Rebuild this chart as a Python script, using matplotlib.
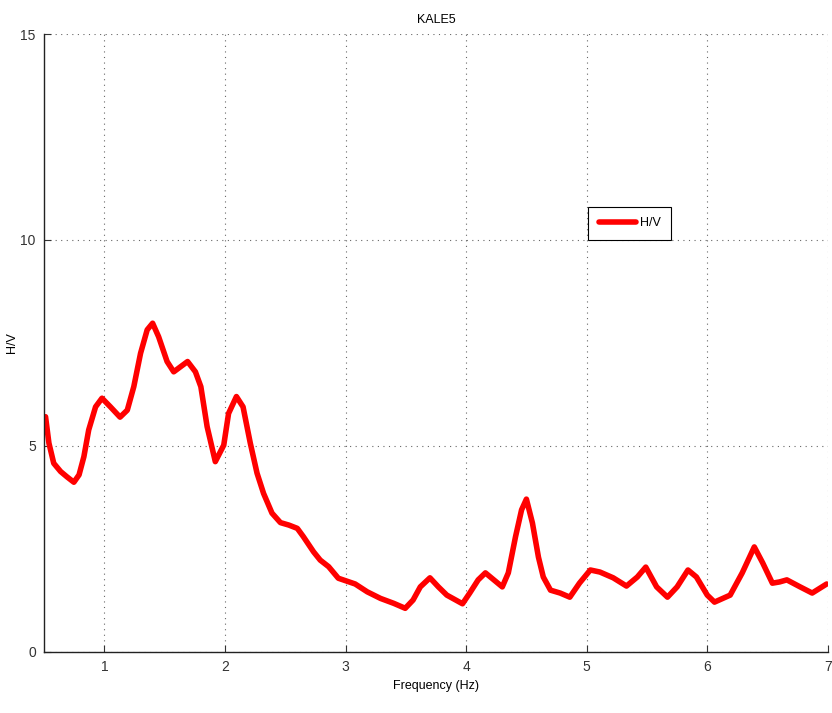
import matplotlib.pyplot as plt
import numpy as np

# H/V curve
freq = [0.512, 0.54, 0.58, 0.637, 0.69, 0.747, 0.79, 0.83, 0.87, 0.927, 0.98,
        1.05, 1.13, 1.19, 1.244, 1.30, 1.355, 1.40, 1.45, 1.52, 1.575, 1.63,
        1.69, 1.755, 1.80, 1.852, 1.92, 1.99, 2.03, 2.095, 2.15, 2.21, 2.266,
        2.32, 2.39, 2.46, 2.53, 2.60, 2.65, 2.735, 2.79, 2.86, 2.94, 3.01, 3.08,
        3.18, 3.29, 3.40, 3.495, 3.56, 3.62, 3.70, 3.77,
        3.84, 3.97, 4.03, 4.10, 4.16, 4.23, 4.30, 4.35, 4.41, 4.46, 4.50, 4.55,
        4.60, 4.64, 4.70, 4.78, 4.86, 4.94, 5.03, 5.11, 5.22, 5.33, 5.42, 5.49,
        5.58, 5.67, 5.75, 5.84, 5.91, 6.00, 6.06, 6.19, 6.29, 6.39, 6.46, 6.54,
        6.60, 6.66, 6.77, 6.87, 6.99]
hv = [5.71, 5.07, 4.58, 4.38, 4.25, 4.12, 4.30, 4.74, 5.39, 5.95, 6.16,
      5.95, 5.70, 5.87, 6.44, 7.25, 7.82, 7.98, 7.65, 7.05, 6.80, 6.92,
      7.05, 6.80, 6.44, 5.47, 4.62, 5.02, 5.79, 6.20, 5.95, 5.07, 4.34,
      3.85, 3.37, 3.14, 3.08, 3.00, 2.80, 2.43, 2.23, 2.07, 1.79, 1.72, 1.65,
      1.46, 1.30, 1.18, 1.06, 1.26, 1.58, 1.80, 1.58,
      1.38, 1.17, 1.43, 1.75, 1.92, 1.75, 1.58, 1.92, 2.80, 3.45, 3.71, 3.13,
      2.30, 1.82, 1.50, 1.43, 1.33, 1.67, 1.99, 1.94, 1.80, 1.60, 1.82, 2.06,
      1.58, 1.33, 1.58, 1.99, 1.82, 1.38, 1.21, 1.38, 1.92, 2.55, 2.16, 1.67,
      1.70, 1.75, 1.58, 1.43, 1.65]

xticks = [1, 2, 3, 4, 5, 6, 7]
yticks = [0, 5, 10, 15]

plt.rcParams['font.family'] = ['Liberation Sans Narrow', 'Liberation Sans', 'DejaVu Sans']

fig = plt.figure(figsize=(8.32, 7.13), dpi=100)
ax = fig.add_axes([0.053, 0.0856, 0.942, 0.8667])
ax.plot(freq, hv, color='red', linewidth=4, label='H/V',
        solid_joinstyle='round', solid_capstyle='round')
ax.set_xlim(0.5, 7)
ax.set_ylim(0, 15)
ax.set_xticks(xticks)
ax.set_yticks(yticks)
ax.grid(True, linestyle=(0, (1, 4)), color='black', linewidth=0.8, alpha=0.6)
ax.tick_params(direction='in', length=5, labelsize=10, pad=6, colors='#333333')
for s in ['top', 'right']:
    ax.spines[s].set_visible(False)
for s in ['left', 'bottom']:
    ax.spines[s].set_linewidth(1.0)
    ax.spines[s].set_color('#222222')
ax.set_title('KALE5', fontsize=9, pad=8)
ax.set_xlabel('Frequency (Hz)', fontsize=9, labelpad=4)
ax.set_ylabel('H/V', fontsize=9)
ax.yaxis.set_label_coords(-0.033, 0.5)
leg = ax.legend(loc='lower left', bbox_to_anchor=(0.694, 0.667), borderaxespad=0,
                fancybox=False, edgecolor='black', framealpha=1, fontsize=9,
                handlelength=3.0, handletextpad=0.3, borderpad=0.85)
leg.get_frame().set_linewidth(0.8)

plt.savefig('out.png', dpi=100)
